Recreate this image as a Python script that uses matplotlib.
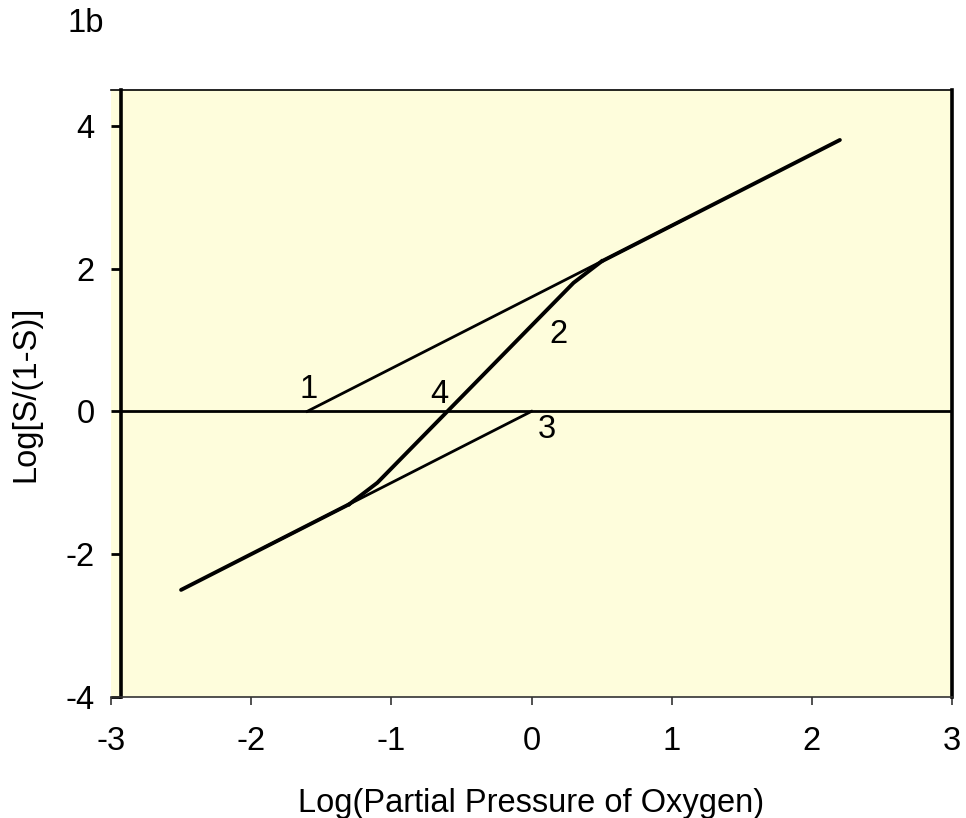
import matplotlib
matplotlib.use("Agg")
import matplotlib.pyplot as plt

plt.rcParams['font.family'] = ['Liberation Sans', 'DejaVu Sans']

# Data (log pO2, log[S/(1-S)])
line1_x = [-1.6, 1.1]
line1_y = [0.0, 2.7]
upper_x = [0.5, 2.2]
upper_y = [2.1, 3.8]
line3_x = [-1.9, 0.0]
line3_y = [-1.9, 0.0]
lower_x = [-2.5, -1.3]
lower_y = [-2.5, -1.3]
line2_x = [-1.3, -1.1, 0.3, 0.5]
line2_y = [-1.3, -1.0, 1.8, 2.1]
zero_x = [-2.93, 3.0]
zero_y = [0.0, 0.0]

labels = ["1", "2", "3", "4"]
label_x = [-1.59, 0.19, 0.11, -0.66]
label_y = [0.30, 1.07, -0.26, 0.23]

xticks = [-3, -2, -1, 0, 1, 2, 3]
yticks = [-4, -2, 0, 2, 4]

FS = 23.5

fig = plt.figure(figsize=(9.66, 8.18), dpi=100)
ax = fig.add_axes([111/966, 1-697/818, (952-111)/966, (697-90)/818])
ax.set_facecolor('#FEFDDC')

thin = 2.0
thick = 2.8
ax.plot(zero_x, zero_y, color='black', lw=thin, solid_capstyle='butt')
ax.plot(line1_x, line1_y, color='black', lw=thin)
ax.plot(line3_x, line3_y, color='black', lw=thin)
ax.plot(upper_x, upper_y, color='black', lw=thick, solid_capstyle='round')
ax.plot(lower_x, lower_y, color='black', lw=thick, solid_capstyle='round')
ax.plot(line2_x, line2_y, color='black', lw=thick, solid_joinstyle='round')

for t, x, y in zip(labels, label_x, label_y):
    ax.text(x, y, t, fontsize=FS, ha='center', va='center')

ax.set_xlim(-3, 3)
ax.set_ylim(-4, 4.5)
ax.set_xticks(xticks)
ax.set_yticks(yticks)
ax.set_xticklabels([str(v) for v in xticks])
ax.set_yticklabels([str(v) for v in yticks])

ax.spines['left'].set_position(('data', -2.93))
ax.spines['left'].set_linewidth(2.6)
ax.spines['right'].set_linewidth(2.6)
ax.spines['top'].set_linewidth(1.2)
ax.spines['bottom'].set_linewidth(1.2)
ax.spines['bottom'].set_color('#333333')

ax.tick_params(axis='y', direction='out', length=7, width=2, pad=12, labelsize=FS)
ax.tick_params(axis='x', direction='out', length=6, width=1.2, pad=15, labelsize=FS, color='#333333')

ax.set_xlabel('Log(Partial Pressure of Oxygen)', fontsize=FS, labelpad=22)
ax.set_ylabel('Log[S/(1-S)]', fontsize=FS, labelpad=17)

fig.text(86/966, 1-24/818, '1b', fontsize=FS, ha='center', va='center')

fig.savefig('out.png', dpi=100)
